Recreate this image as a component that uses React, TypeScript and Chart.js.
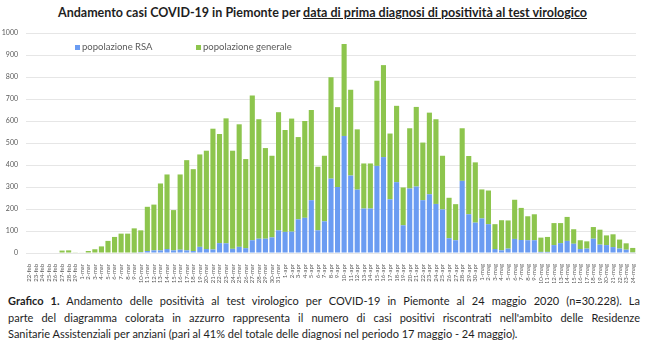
import React, { useEffect, useRef } from 'react';
import { Chart, registerables } from 'chart.js';

Chart.register(...registerables);

const dates = [
  '22-feb', '23-feb', '24-feb', '25-feb', '26-feb', '27-feb', '28-feb', '29-feb',
  '1-mar', '2-mar', '3-mar', '4-mar', '5-mar', '6-mar', '7-mar', '8-mar', '9-mar', '10-mar',
  '11-mar', '12-mar', '13-mar', '14-mar', '15-mar', '16-mar', '17-mar', '18-mar', '19-mar', '20-mar',
  '21-mar', '22-mar', '23-mar', '24-mar', '25-mar', '26-mar', '27-mar', '28-mar', '29-mar', '30-mar', '31-mar',
  '1-apr', '2-apr', '3-apr', '4-apr', '5-apr', '6-apr', '7-apr', '8-apr', '9-apr', '10-apr',
  '11-apr', '12-apr', '13-apr', '14-apr', '15-apr', '16-apr', '17-apr', '18-apr', '19-apr', '20-apr',
  '21-apr', '22-apr', '23-apr', '24-apr', '25-apr', '26-apr', '27-apr', '28-apr', '29-apr', '30-apr',
  '1-mag', '2-mag', '3-mag', '4-mag', '5-mag', '6-mag', '7-mag', '8-mag', '9-mag', '10-mag',
  '11-mag', '12-mag', '13-mag', '14-mag', '15-mag', '16-mag', '17-mag', '18-mag', '19-mag', '20-mag',
  '21-mag', '22-mag', '23-mag', '24-mag',
];

const popolazioneRSA = [
  0, 0, 0, 0, 0, 0, 0, 0,
  0, 0, 0, 0, 0, 0, 0, 0, 2, 4,
  9, 12, 12, 18, 12, 15, 12, 9, 28, 18,
  16, 45, 44, 19, 28, 22, 58, 65, 65, 71, 103,
  96, 97, 153, 160, 240, 103, 144, 338, 300, 532,
  352, 288, 202, 202, 396, 436, 244, 322, 126, 293,
  302, 240, 267, 223, 198, 67, 58, 328, 176, 138,
  157, 131, 18, 12, 20, 64, 59, 58, 58, 5,
  5, 36, 45, 55, 42, 18, 20, 65, 38, 36,
  27, 20, 15, 3,
];

const popolazioneGenerale = [
  0, 0, 0, 0, 0, 11, 12, 3,
  2, 9, 17, 30, 55, 73, 88, 88, 110, 99,
  201, 208, 304, 339, 183, 342, 410, 372, 420, 447,
  549, 496, 568, 446, 557, 405, 658, 543, 412, 371, 537,
  463, 514, 374, 440, 410, 289, 298, 461, 363, 418,
  390, 274, 205, 205, 387, 418, 299, 347, 172, 274,
  362, 262, 371, 385, 244, 184, 164, 239, 265, 274,
  132, 153, 113, 137, 128, 178, 146, 109, 118, 65,
  68, 100, 91, 109, 66, 40, 33, 53, 68, 44,
  58, 41, 29, 20,
];

const Y_MIN = 0;
const Y_MAX = 1000;
const Y_STEP = 100;

const BLUE = '#6b9cf2';
const GREEN = '#8dc54d';
const FONT = 'Lato, "Open Sans", sans-serif';
const TEXT_GRAY = '#5a5a5a';

export default function App() {
  const canvasRef = useRef<HTMLCanvasElement>(null);

  useEffect(() => {
    document.body.style.margin = '0';
    const canvas = canvasRef.current;
    if (!canvas) return;
    const chart = new Chart(canvas, {
      type: 'bar',
      data: {
        labels: dates,
        datasets: [
          {
            label: 'popolazione RSA',
            data: popolazioneRSA,
            backgroundColor: BLUE,
            barPercentage: 0.78,
            categoryPercentage: 1,
          },
          {
            label: 'popolazione generale',
            data: popolazioneGenerale,
            backgroundColor: GREEN,
            barPercentage: 0.78,
            categoryPercentage: 1,
          },
        ],
      },
      options: {
        responsive: false,
        animation: false,
        layout: { padding: { top: 33, bottom: 7, left: 0, right: 14 } },
        plugins: {
          legend: { display: false },
          tooltip: { enabled: false },
          title: { display: false },
        },
        scales: {
          x: {
            stacked: true,
            grid: { display: false },
            border: { display: false },
            ticks: {
              autoSkip: false,
              maxRotation: 90,
              minRotation: 90,
              padding: 3,
              color: TEXT_GRAY,
              font: { family: FONT, size: 6 },
            },
            afterFit: (s: any) => {
              s.height = 30;
            },
          },
          y: {
            stacked: true,
            min: Y_MIN,
            max: Y_MAX,
            ticks: {
              stepSize: Y_STEP,
              padding: 8,
              color: TEXT_GRAY,
              font: { family: FONT, size: 7 },
              callback: (v: any) => String(v),
            },
            grid: { color: '#e6e6e6', drawTicks: false, lineWidth: 1 },
            border: { display: false },
            afterFit: (s: any) => {
              s.width = 26;
            },
          },
        },
      },
    });
    return () => chart.destroy();
  }, []);

  const captionLine: React.CSSProperties = {
    textAlign: 'justify',
    textAlignLast: 'justify' as any,
    whiteSpace: 'nowrap',
    height: 16.5,
  };

  const legendText: React.CSSProperties = {
    position: 'absolute',
    top: 0,
    fontSize: 9.5,
    lineHeight: '12px',
    color: TEXT_GRAY,
    whiteSpace: 'nowrap',
  };

  return (
    <div
      style={{
        position: 'relative',
        width: 650,
        height: 364,
        background: '#fff',
        overflow: 'hidden',
        fontFamily: FONT,
      }}
    >
      <div
        style={{
          position: 'absolute',
          top: 5,
          left: 0,
          width: 645,
          textAlign: 'center',
          fontWeight: 700,
          fontSize: 12.5,
          color: '#1e1e1e',
          whiteSpace: 'nowrap',
        }}
      >
        Andamento casi COVID-19 in Piemonte per{' '}
        <span style={{ textDecoration: 'underline' }}>
          data di prima diagnosi di positività al test virologico
        </span>
      </div>
      <canvas
        ref={canvasRef}
        width={650}
        height={290}
        style={{ position: 'absolute', top: 0, left: 0, display: 'block' }}
      />
      <div style={{ position: 'absolute', top: 41, left: 0, width: 650, height: 12 }}>
        <span
          style={{ position: 'absolute', top: 4, left: 75, width: 5, height: 5, background: BLUE }}
        />
        <span style={{ ...legendText, left: 82 }}>popolazione RSA</span>
        <span
          style={{ position: 'absolute', top: 4, left: 196, width: 5, height: 5, background: GREEN }}
        />
        <span style={{ ...legendText, left: 203 }}>popolazione generale</span>
      </div>
      <div
        style={{
          position: 'absolute',
          top: 293,
          left: 8,
          width: 632,
          fontSize: 11,
          lineHeight: '16.5px',
          color: '#1e1e1e',
        }}
      >
        <div style={captionLine}>
          <b>Grafico 1.</b> Andamento delle positività al test virologico per COVID-19 in Piemonte al 24 maggio 2020
          (n=30.228). La
        </div>
        <div style={captionLine}>
          parte del diagramma colorata in azzurro rappresenta il numero di casi positivi riscontrati nell'ambito delle
          Residenze
        </div>
        <div style={{ whiteSpace: 'nowrap', height: 16.5 }}>
          Sanitarie Assistenziali per anziani (pari al 41% del totale delle diagnosi nel periodo 17 maggio - 24
          maggio).
        </div>
      </div>
    </div>
  );
}
